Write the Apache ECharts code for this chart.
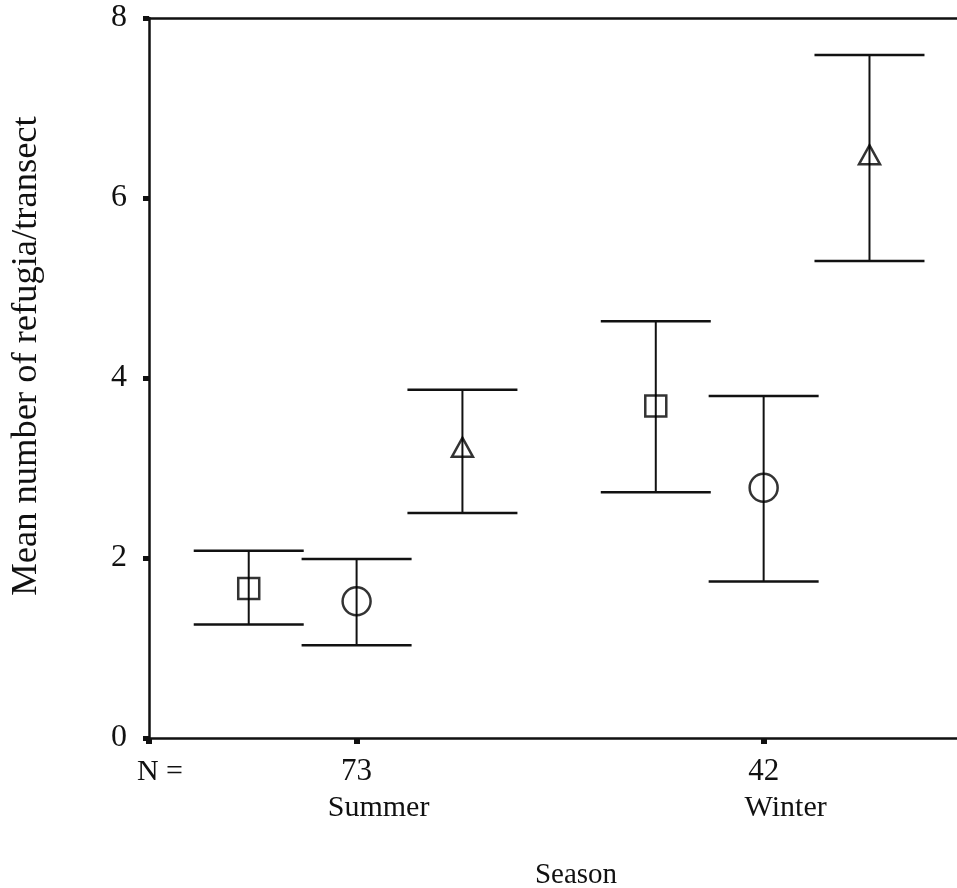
<!DOCTYPE html>
<html>
<head>
<meta charset="utf-8">
<script src="https://cdn.jsdelivr.net/npm/echarts@6/dist/echarts.min.js"></script>
<style>
  html, body { margin: 0; padding: 0; background: #fff; }
  #chart { width: 957px; height: 888px; }
</style>
</head>
<body>
<div id="chart"></div>
<script>
// data
var seasons = ['Summer', 'Winter'];
var seasonN = [73, 42];
var seasonX = [1, 3];
var groupOffset = [-0.53, 0, 0.52]; // square, circle, triangle
var meanSummer = [1.66, 1.52, 3.23];
var upperSummer = [2.08, 1.99, 3.87];
var lowerSummer = [1.26, 1.03, 2.50];
var meanWinter = [3.69, 2.78, 6.48];
var upperWinter = [4.63, 3.80, 7.59];
var lowerWinter = [2.73, 1.74, 5.30];
var yTicks = [0, 2, 4, 6, 8];

var xMin = -0.02, xMax = 3.95;
var ink = '#111';
var font = 'Liberation Serif';

var means = [meanSummer, meanWinter];
var uppers = [upperSummer, upperWinter];
var lowers = [lowerSummer, lowerWinter];
var symbols = ['rect', 'circle', 'triangle'];
var symbolSizes = [21, 28, [21, 19]];

// error bars + mean markers
var barData = [];
var pointSeries = [];
for (var g = 0; g < 3; g++) {
  var pts = [];
  for (var s = 0; s < seasons.length; s++) {
    var x = seasonX[s] + groupOffset[g];
    barData.push([x, lowers[s][g], uppers[s][g]]);
    pts.push([x, means[s][g]]);
  }
  pointSeries.push({
    type: 'scatter',
    symbol: symbols[g],
    symbolSize: symbolSizes[g],
    z: 5,
    itemStyle: { color: 'rgba(0,0,0,0)', borderColor: '#000', borderWidth: 2.5 },
    data: pts
  });
}

function renderBar(params, api) {
  var x = api.value(0);
  var top = api.coord([x, api.value(2)]);
  var bot = api.coord([x, api.value(1)]);
  var hw = 55;
  var st = { stroke: ink, lineWidth: 2 };
  var cap = { stroke: ink, lineWidth: 2.5 };
  return {
    type: 'group',
    children: [
      { type: 'line', shape: { x1: top[0], y1: top[1], x2: bot[0], y2: bot[1] }, style: st },
      { type: 'line', shape: { x1: top[0] - hw, y1: top[1], x2: top[0] + hw, y2: top[1] }, style: cap },
      { type: 'line', shape: { x1: bot[0] - hw, y1: bot[1], x2: bot[0] + hw, y2: bot[1] }, style: cap }
    ]
  };
}

var xTickValues = [xMin].concat(seasonX);

var chart = echarts.init(document.getElementById('chart'));
chart.setOption({
  animation: false,
  grid: { left: 149, right: 0, top: 18, bottom: 150 },
  xAxis: [{
    type: 'value',
    min: xMin,
    max: xMax,
    position: 'bottom',
    splitLine: { show: false },
    axisLine: { lineStyle: { color: ink, width: 2.5 } },
    axisTick: { customValues: xTickValues, length: 6, lineStyle: { color: ink, width: 6 } },
    axisLabel: {
      customValues: xTickValues,
      margin: 16,
      color: ink,
      fontFamily: font,
      fontSize: 30,
      formatter: function(v) {
        if (v < 0) return '{n|N =}';
        var i = seasonX.indexOf(v);
        return '{num|' + seasonN[i] + '}\n{s|' + seasons[i] + '}';
      },
      rich: {
        n: { fontFamily: font, fontSize: 30, color: ink, lineHeight: 36, padding: [0, 0, 0, 22] },
        num: { fontFamily: font, fontSize: 31, color: ink, lineHeight: 36 },
        s: { fontFamily: font, fontSize: 30, color: ink, lineHeight: 36, padding: [0, 0, 0, 44] }
      }
    }
  }, {
    type: 'value',
    min: xMin,
    max: xMax,
    position: 'top',
    splitLine: { show: false },
    axisLine: { show: true, lineStyle: { color: ink, width: 2.5 } },
    axisTick: { show: false },
    axisLabel: { show: false }
  }],
  yAxis: {
    type: 'value',
    min: yTicks[0],
    max: yTicks[yTicks.length - 1],
    interval: 2,
    splitLine: { show: false },
    axisLine: { show: true, onZero: false, lineStyle: { color: ink, width: 2.5 } },
    axisTick: { length: 6, lineStyle: { color: ink, width: 5 } },
    axisLabel: { margin: 22, color: ink, fontFamily: font, fontSize: 32 }
  },
  graphic: [
    {
      type: 'text',
      x: 26, y: 356,
      rotation: Math.PI / 2,
      style: {
        text: 'Mean number of refugia/transect',
        fontFamily: font, fontSize: 36.5, fill: ink,
        align: 'center', verticalAlign: 'middle'
      }
    },
    {
      type: 'text',
      x: 576, y: 875,
      style: {
        text: 'Season',
        fontFamily: font, fontSize: 29, fill: ink,
        align: 'center', verticalAlign: 'middle'
      }
    }
  ],
  series: [{
    type: 'custom',
    renderItem: renderBar,
    z: 3,
    data: barData
  }].concat(pointSeries)
});
</script>
</body>
</html>
